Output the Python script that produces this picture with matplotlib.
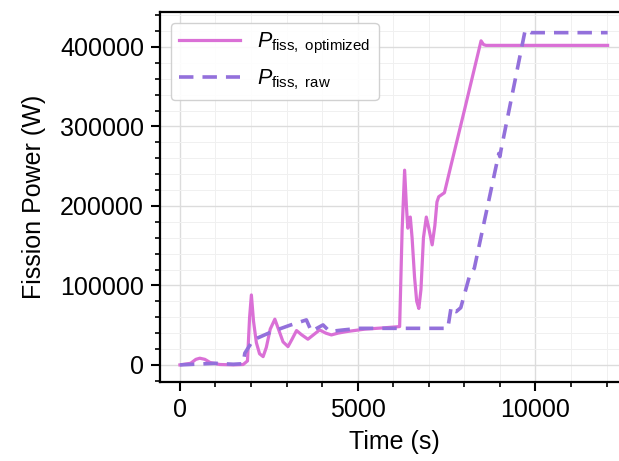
import matplotlib
matplotlib.use("Agg")
import matplotlib.pyplot as plt
from matplotlib.ticker import MultipleLocator, ScalarFormatter

t_opt = [0, 300, 450, 560, 700, 850, 1120, 1500, 1780, 1900, 1960, 2010, 2070, 2150,
         2240, 2340, 2430, 2540, 2670, 2780, 2900, 3040, 3150, 3280, 3420, 3600,
         3760, 3930, 4100, 4260, 4450, 4700, 5200, 5700, 6180,
         6250, 6320, 6370, 6410, 6450, 6480, 6530, 6600, 6660, 6720, 6780, 6850,
         6930, 7000, 7095, 7170, 7230, 7280,
         7440, 7630, 8000, 8470, 8540, 8610, 9000, 10000, 11000, 12030]
p_opt = [0, 2000, 7000, 8400, 7000, 3000, 500, 0, 500, 5000, 60000, 88000, 55000, 28000,
         14000, 10400, 22000, 45000, 57500, 44000, 29000, 23000, 32000, 43200, 38000, 32300,
         38000, 44000, 40000, 37700, 40000, 42000, 45000, 46500, 48200,
         170000, 245000, 200000, 172000, 185000, 186000, 160000, 110000, 80000, 71000, 95000, 160000,
         186000, 172000, 151000, 175000, 205000, 211600,
         216600, 252000, 320000, 407700, 403000, 402000, 402000, 402000, 402000, 402000]

t_raw = [0, 500, 1000, 1500, 1780, 1825, 2060, 2600, 3100, 3557, 3700, 3850,
         4025, 4212, 4600, 5054, 6000, 7000, 7535, 7630, 7700, 7770, 7900,
         8140, 8280, 8970, 9000, 9030, 9715, 9875, 10500, 11200, 12030]
p_raw = [0, 1000, 2000, 800, 1500, 14700, 31400, 42000, 50000, 56600, 42000, 46000,
         50300, 42000, 44000, 46000, 46000, 46000, 46000, 73000, 68000, 67000, 72000,
         111000, 121500, 266000, 262000, 270000, 422000, 418000, 418000, 418000, 418000]

plt.rcParams["font.family"] = ["Liberation Sans", "DejaVu Sans"]
plt.rcParams["mathtext.fontset"] = "custom"
plt.rcParams["mathtext.rm"] = "Liberation Sans"
plt.rcParams["mathtext.it"] = "Liberation Sans:italic"

fig = plt.figure(figsize=(6.19, 4.61), dpi=100)
ax = fig.add_axes([0.2585, 0.1714, 0.757, 0.8026])

ax.plot(t_opt, p_opt, color="orchid", lw=2.3,
        label=r"$P_{\mathrm{fiss,\ optimized}}$")
ax.plot(t_raw, p_raw, color="mediumpurple", lw=2.6, ls=(0, (4, 2.5)),
        label=r"$P_{\mathrm{fiss,\ raw}}$")

ax.set_xlim(-560, 12620)
ax.set_ylim(-21500, 444000)
ax.xaxis.set_major_locator(MultipleLocator(5000))
ax.xaxis.set_minor_locator(MultipleLocator(1000))
ax.yaxis.set_major_locator(MultipleLocator(100000))
ax.yaxis.set_minor_locator(MultipleLocator(20000))
fmt = ScalarFormatter(useOffset=False)
fmt.set_scientific(False)
ax.yaxis.set_major_formatter(fmt)

ax.grid(which="major", color="#dcdcdc", lw=1.0)
ax.grid(which="minor", color="#f0f0f0", lw=0.7)
ax.set_axisbelow(True)

for s in ax.spines.values():
    s.set_linewidth(1.6)
ax.tick_params(which="major", length=6.5, width=1.5, labelsize=18, pad=5)
ax.tick_params(which="minor", length=3.5, width=1.2)

ax.set_xlabel("Time (s)", fontsize=18, labelpad=6)
ax.set_ylabel("Fission Power (W)", fontsize=18, labelpad=10)

ax.legend(loc="upper left", fontsize=15.5, handlelength=2.8, borderaxespad=0.5,
          labelspacing=0.5, framealpha=0.9)

fig.savefig("out.png", dpi=100)
